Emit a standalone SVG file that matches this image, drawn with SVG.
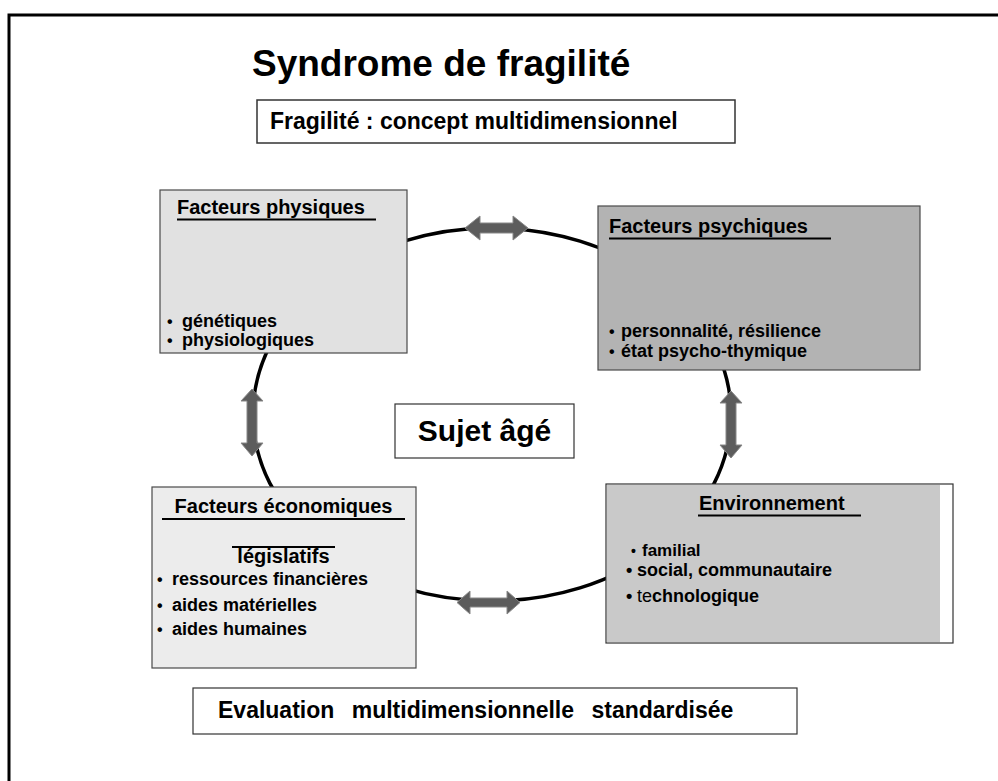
<svg xmlns="http://www.w3.org/2000/svg" width="998" height="781" viewBox="0 0 998 781">
<defs>
<style>
text{font-family:"Liberation Sans",Arial,sans-serif;font-weight:bold;fill:#000}
.box{stroke:#4a4a4a;stroke-width:1.2}
.h{font-size:20px}
.b{font-size:18px}
.d{font-size:16px}
.ul{stroke:#000;stroke-width:2}
.arr{fill:#5c5c5c;stroke:#888;stroke-width:1}
</style>
</defs>
<rect x="0" y="0" width="998" height="781" fill="#fff"/>
<rect x="9" y="15" width="1010" height="800" fill="none" stroke="#000" stroke-width="3"/>

<g id="title">
<text x="252" y="76" style="font-size:37px">Syndrome de fragilité</text>
</g>

<g id="concept">
<rect x="257" y="100" width="478" height="43" fill="#fff" stroke="#333" stroke-width="1.5"/>
<text x="270" y="129" style="font-size:23px">Fragilité : concept multidimensionnel</text>
</g>

<g id="connectors">
<ellipse cx="492" cy="414.5" rx="239" ry="186.5" fill="none" stroke="#000" stroke-width="3.5"/>
<path class="arr" d="M465,228 L480,216 L480,223 L513,223 L513,216 L528,228 L513,240 L513,233 L480,233 L480,240 Z"/>
<path class="arr" d="M457,602.5 L470,591 L470,598 L507,598 L507,591 L520,602.5 L507,614 L507,607 L470,607 L470,614 Z"/>
<path class="arr" d="M252,389 L263,401 L257,401 L257,443 L263,443 L252,456 L241,443 L247,443 L247,401 L241,401 Z"/>
<path class="arr" d="M731,391 L742,403 L736,403 L736,445 L742,445 L731,458 L720,445 L726,445 L726,403 L720,403 Z"/>
</g>

<g id="physiques">
<rect class="box" x="160" y="190" width="247" height="163" fill="#e1e1e1"/>
<text class="h" x="177" y="214">Facteurs physiques</text>
<line class="ul" x1="177" y1="219.5" x2="376" y2="219.5"/>
<text class="d" x="167" y="327">•</text>
<text class="b" x="182" y="327">génétiques</text>
<text class="d" x="167" y="346">•</text>
<text class="b" x="182" y="346">physiologiques</text>
</g>

<g id="psychiques">
<rect class="box" x="598" y="206" width="322" height="164" fill="#b3b3b3"/>
<text class="h" x="609" y="233">Facteurs psychiques</text>
<line class="ul" x1="609" y1="238.5" x2="831" y2="238.5"/>
<text class="d" x="609" y="337">•</text>
<text class="b" x="621" y="337">personnalité, résilience</text>
<text class="d" x="609" y="357">•</text>
<text class="b" x="621" y="357">état psycho-thymique</text>
</g>

<g id="sujet">
<rect x="395" y="404" width="179" height="54" fill="#fff" stroke="#333" stroke-width="1.2"/>
<text x="484.5" y="441" text-anchor="middle" style="font-size:30px">Sujet âgé</text>
</g>

<g id="economiques">
<rect class="box" x="152" y="487" width="264" height="181" fill="#ececec"/>
<text class="h" x="283.5" y="513" text-anchor="middle">Facteurs économiques</text>
<line class="ul" x1="162" y1="519" x2="405" y2="519"/>
<line class="ul" x1="232" y1="547" x2="335" y2="547"/>
<text class="h" x="283.5" y="563" text-anchor="middle">législatifs</text>
<text class="d" x="157" y="585">•</text>
<text class="b" x="172" y="585">ressources financières</text>
<text class="d" x="157" y="611">•</text>
<text class="b" x="172" y="611">aides matérielles</text>
<text class="d" x="157" y="635">•</text>
<text class="b" x="172" y="635">aides humaines</text>
</g>

<g id="environnement">
<rect x="606" y="484" width="347" height="159" fill="#fff" stroke="#333" stroke-width="1.2"/>
<rect x="607" y="485" width="333" height="157" fill="#c9c9c9"/>
<text class="h" x="699" y="510">Environnement</text>
<line class="ul" x1="698" y1="515.5" x2="861" y2="515.5"/>
<text class="d" x="631" y="556" style="font-size:14px">•</text>
<text class="b" x="642" y="556" style="font-size:17px">familial</text>
<text class="d" x="626" y="576" style="font-size:18px">•</text>
<text class="b" x="637" y="576">social, communautaire</text>
<text class="d" x="626" y="602" style="font-size:18px">•</text>
<text class="b" x="637" y="602"><tspan style="font-weight:normal">te</tspan>chnologique</text>
</g>

<g id="evaluation">
<rect x="193" y="688" width="604" height="46" fill="#fff" stroke="#333" stroke-width="1.2"/>
<text x="218" y="718" style="font-size:23px;word-spacing:11px">Evaluation multidimensionnelle standardisée</text>
</g>
</svg>
